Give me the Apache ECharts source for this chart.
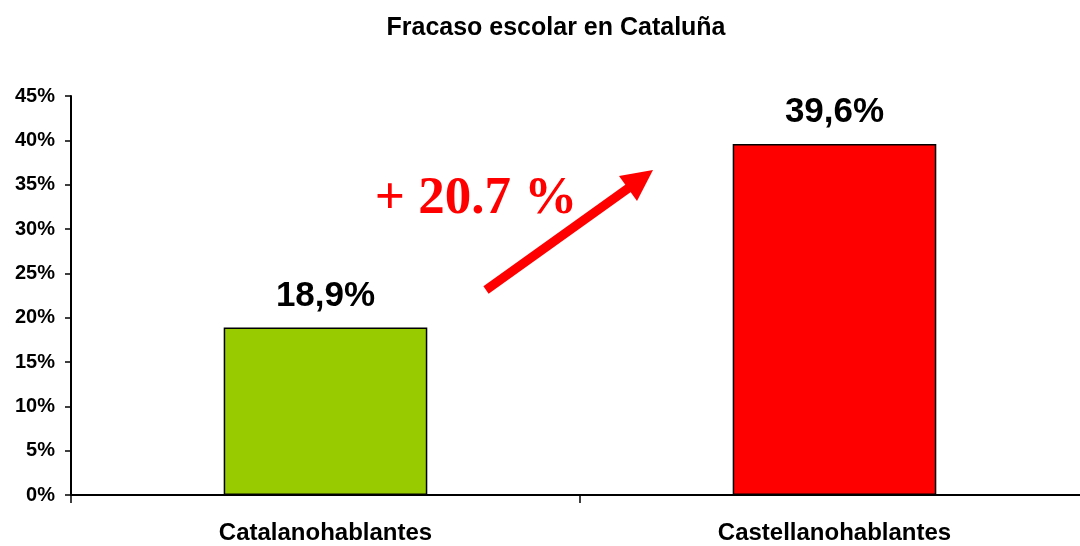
<!DOCTYPE html>
<html><head><meta charset="utf-8">
<script src="https://cdn.jsdelivr.net/npm/echarts@6/dist/echarts.min.js"></script>
<style>html,body{margin:0;padding:0;background:#fff}#c{width:1080px;height:546px}</style>
</head><body><div id="c"></div>
<script>
const categories = ['Catalanohablantes', 'Castellanohablantes'];
const values = [18.9, 39.6];
const valueLabels = ['18,9%', '39,6%'];
const barColors = ['#99CC00', '#FF0000'];
const yTicks = [0, 5, 10, 15, 20, 25, 30, 35, 40, 45];
const annotationText = '+ 20.7 %';

const chart = echarts.init(document.getElementById('c'));
const F = 'Arial, "Liberation Sans", sans-serif';
chart.setOption({
  animation: false,
  title: {
    text: 'Fracaso escolar en Cataluña', left: 551, top: 11, textAlign: 'center',
    textStyle: { fontFamily: F, fontWeight: 'bold', fontSize: 25, color: '#000' }
  },
  grid: { left: 71, width: 1018, top: 96, bottom: 51, containLabel: false, outerBoundsMode: 'none' },
  xAxis: {
    type: 'category', data: categories,
    axisLine: { lineStyle: { color: '#000', width: 2 } },
    axisTick: { show: true, length: 8, lineStyle: { color: '#000', width: 1.5 } },
    axisLabel: { fontFamily: F, fontWeight: 'bold', fontSize: 24, color: '#000', margin: 26 }
  },
  yAxis: {
    type: 'value', min: yTicks[0], max: yTicks[yTicks.length - 1], interval: 5,
    axisLine: { show: true, lineStyle: { color: '#000', width: 2 } },
    axisTick: { show: true, length: 6, lineStyle: { color: '#000', width: 1.5 } },
    splitLine: { show: false },
    axisLabel: { fontFamily: F, fontWeight: 'bold', fontSize: 20, color: '#000', margin: 16,
      formatter: v => v + '%' }
  },
  series: [{
    type: 'bar', barWidth: '40%',
    data: values.map((v, i) => ({ value: v, itemStyle: { color: barColors[i] } })),
    itemStyle: { borderColor: '#000', borderWidth: 1.5 },
    label: { show: true, position: 'top', distance: 14, fontFamily: F, fontWeight: 'bold',
      fontSize: 35, color: '#000', formatter: p => valueLabels[p.dataIndex] }
  }],
  graphic: [
    { type: 'line', shape: { x1: 486, y1: 290, x2: 630, y2: 187 },
      style: { stroke: '#FF0000', lineWidth: 9 } },
    { type: 'polygon', shape: { points: [[653, 170], [619, 176], [637, 201]] },
      style: { fill: '#FF0000' } },
    { type: 'text', x: 476, y: 199,
      style: { text: annotationText, fill: '#FF0000', font: 'bold 53px "Liberation Serif", "Times New Roman", serif',
        textAlign: 'center', textVerticalAlign: 'middle' } }
  ]
});
</script></body></html>
